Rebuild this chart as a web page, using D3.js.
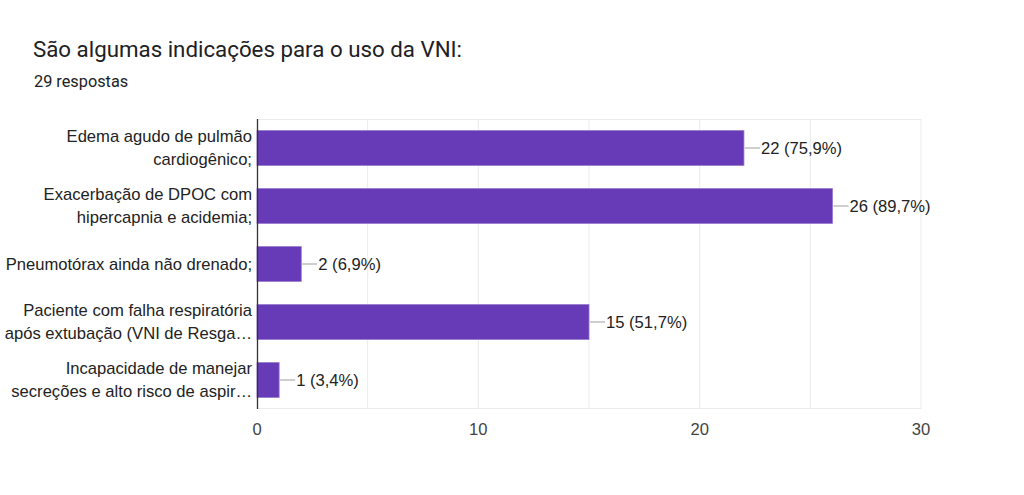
<!DOCTYPE html>
<html>
<head>
<meta charset="utf-8">
<script src="https://cdn.jsdelivr.net/npm/d3@7"></script>
<style>
  body { margin: 0; background: #fff; }
  svg { font-family: "Liberation Sans", Arial, sans-serif; }
</style>
</head>
<body>
<svg id="chart" width="1024" height="495"></svg>
<script>
const title = "São algumas indicações para o uso da VNI:";
const subtitle = "29 respostas";
const categories = [
    ["Edema agudo de pulmão", "cardiogênico;"],
    ["Exacerbação de DPOC com", "hipercapnia e acidemia;"],
    ["Pneumotórax ainda não drenado;"],
    ["Paciente com falha respiratória", "após extubação (VNI de Resga…"],
    ["Incapacidade de manejar", "secreções e alto risco de aspir…"]
];
const counts = [22, 26, 2, 15, 1];
const labels = ["22 (75,9%)", "26 (89,7%)", "2 (6,9%)", "15 (51,7%)", "1 (3,4%)"];
const gridTicks = [0, 5, 10, 15, 20, 25, 30];
const axisTicks = [0, 10, 20, 30];

const svg = d3.select("#chart");
const margin = { top: 119, left: 257, right: 103, bottom: 86 };
const width = 1024 - margin.left - margin.right;
const height = 495 - margin.top - margin.bottom;
const fs = 16.6;

svg.append("text")
    .attr("x", 33).attr("y", 57)
    .attr("font-family", "Roboto, sans-serif")
    .attr("font-size", 22.3).attr("fill", "#202124")
    .text(title);
svg.append("text")
    .attr("x", 34).attr("y", 87)
    .attr("font-family", "Roboto, sans-serif")
    .attr("font-size", 16.3).attr("fill", "#202124")
    .text(subtitle);

const g = svg.append("g").attr("transform", `translate(${margin.left},${margin.top})`);

const x = d3.scaleLinear().domain([0, 30]).range([0, width]);
const y = d3.scaleBand().domain(d3.range(counts.length)).range([0, height]).paddingInner(0.4).paddingOuter(0.2);

// gridlines
g.append("g").selectAll("line")
    .data(gridTicks.slice(1))
    .enter().append("line")
    .attr("x1", d => x(d)).attr("x2", d => x(d))
    .attr("y1", 0).attr("y2", height)
    .attr("stroke", "#ebebeb").attr("stroke-width", 1);
g.append("line")
    .attr("x1", 0).attr("x2", width).attr("y1", 0.5).attr("y2", 0.5)
    .attr("stroke", "#ebebeb");
g.append("line")
    .attr("x1", 0).attr("x2", width).attr("y1", height - 0.5).attr("y2", height - 0.5)
    .attr("stroke", "#ebebeb");

// bars
g.append("g").selectAll("rect")
    .data(counts)
    .enter().append("rect")
    .attr("x", x(0))
    .attr("y", (d, i) => y(i))
    .attr("width", d => x(d) - x(0))
    .attr("height", y.bandwidth())
    .attr("fill", "#673ab7")
    .attr("stroke", "#9575cd").attr("stroke-width", 0.8);

// leader lines and value labels
const lab = g.append("g").selectAll("g")
    .data(counts)
    .enter().append("g");
lab.append("line")
    .attr("x1", d => x(d) + 1).attr("x2", d => x(d) + 16)
    .attr("y1", (d, i) => y(i) + y.bandwidth() / 2)
    .attr("y2", (d, i) => y(i) + y.bandwidth() / 2)
    .attr("stroke", "#9e9e9e").attr("stroke-width", 1);
lab.append("text")
    .attr("x", d => x(d) + 17)
    .attr("y", (d, i) => y(i) + y.bandwidth() / 2)
    .attr("dy", "0.34em")
    .attr("font-size", fs).attr("fill", "#222")
    .text((d, i) => labels[i]);

// category labels
const cat = g.append("g").selectAll("text")
    .data(categories)
    .enter().append("text")
    .attr("text-anchor", "end")
    .attr("font-size", fs).attr("fill", "#222")
    .attr("y", (d, i) => y(i) + y.bandwidth() / 2);
cat.selectAll("tspan")
    .data(d => d.map((t, j) => ({ t, j, n: d.length })))
    .enter().append("tspan")
    .attr("x", -5)
    .attr("dy", d => d.j === 0 ? (0.34 - (d.n - 1) * 0.69) + "em" : "1.38em")
    .text(d => d.t);

// axis
g.append("line")
    .attr("x1", 0.5).attr("x2", 0.5).attr("y1", 0).attr("y2", height)
    .attr("stroke", "#333").attr("stroke-width", 1.3);

g.append("g").selectAll("text")
    .data(axisTicks)
    .enter().append("text")
    .attr("x", d => x(d))
    .attr("y", height + 26)
    .attr("text-anchor", "middle")
    .attr("font-size", fs).attr("fill", "#444")
    .text(d => d);
</script>
</body>
</html>
